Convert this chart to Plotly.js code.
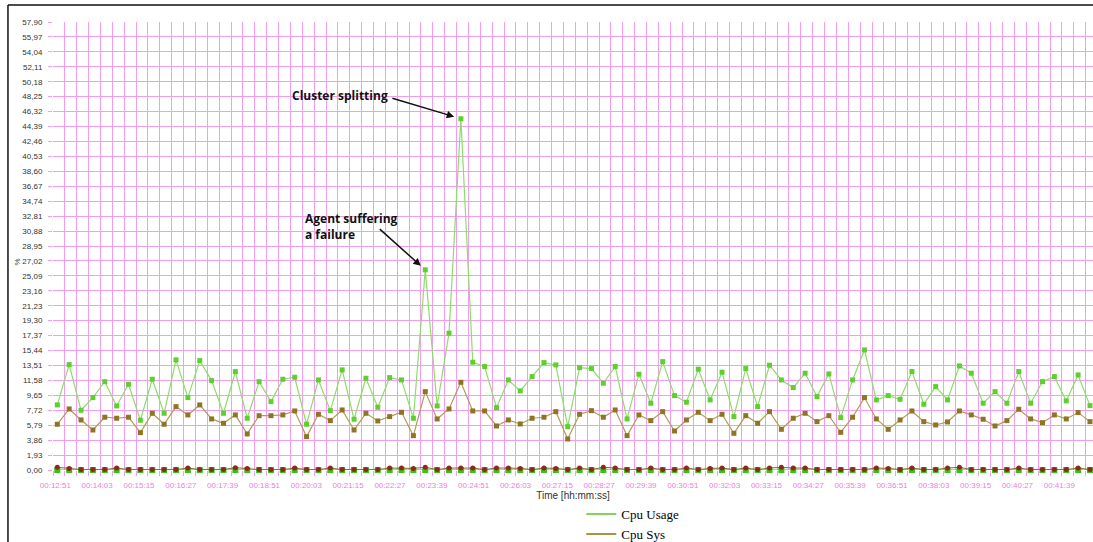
<!DOCTYPE html>
<html>
<head>
<meta charset="utf-8">
<script src="https://cdn.plot.ly/plotly-3.0.1.min.js"></script>
<style>html,body{margin:0;padding:0;background:#fff;}#chart{width:1093px;height:542px;}</style>
</head>
<body>
<div id="chart"></div>
<script>
// ---- data ----
const xTickLabels = ['00:12:51','00:14:03','00:15:15','00:16:27','00:17:39','00:18:51','00:20:03','00:21:15','00:22:27','00:23:39','00:24:51','00:26:03','00:27:15','00:28:27','00:29:39','00:30:51','00:32:03','00:33:15','00:34:27','00:35:39','00:36:51','00:38:03','00:39:15','00:40:27','00:41:39'];
const yTickLabels = ['0,00','1,93','3,86','5,79','7,72','9,65','11,58','13,51','15,44','17,37','19,30','21,23','23,16','25,09','27,02','28,95','30,88','32,81','34,74','36,67','38,60','40,53','42,46','44,39','46,32','48,25','50,18','52,11','54,04','55,97','57,90'];
const firstSampleTime = '00:12:54.4';
const samplePeriodSec = 20.43;

const cpuUsage = [8.41,13.62,7.72,9.36,11.42,8.28,11.08,6.43,11.73,7.33,14.23,9.36,14.14,11.55,7.33,12.72,6.69,11.42,8.84,11.73,11.99,5.91,11.64,7.67,12.94,6.56,11.86,8.11,11.94,
  11.64,6.69,25.87,8.28,17.68,45.4,13.93,13.37,8.06,11.64,10.22,12.07,13.88,13.58,5.60,13.23,13.11,11.21,13.37,6.60,12.38,8.63,14.01,9.61,8.76,13.03,9.06,12.64,6.90,
  13.11,8.19,13.54,11.64,10.65,12.51,9.49,12.42,6.77,11.64,15.52,9.06,9.61,9.14,12.72,8.50,10.78,9.06,13.45,12.51,8.63,10.13,8.63,12.72,8.63,11.42,12.07,8.93,12.29,8.32];
const cpuSys = [5.91,7.89,6.47,5.17,6.82,6.69,6.82,4.83,7.33,5.91,8.19,7.12,8.41,6.60,6.04,7.12,4.66,7.02,7.02,7.12,7.63,4.31,7.20,6.38,7.76,5.17,7.33,6.34,6.90,
  7.46,4.44,10.13,6.60,7.89,11.34,7.63,7.63,5.69,6.47,5.95,6.69,6.82,7.54,4.01,7.20,7.67,6.82,7.76,4.44,7.12,6.38,7.54,5.04,6.47,7.46,6.38,7.20,4.74,
  7.02,6.04,7.54,5.26,6.69,7.33,6.25,7.02,4.87,6.82,9.36,6.60,5.26,6.47,7.63,6.25,5.82,6.21,7.63,7.12,6.56,5.69,6.38,7.85,6.60,6.12,7.12,6.60,7.42,6.25];
const cpuWait = [0.35,0.2,0.05,0.05,0.05,0.25,0.05,0.05,0.05,0.05,0.05,0.25,0.05,0.05,0.05,0.3,0.2,0.05,0.05,0.05,0.25,0.05,0.05,0.25,0.05,0.05,0.05,0.05,0.25,
  0.25,0.2,0.35,0.05,0.25,0.25,0.25,0.05,0.25,0.25,0.2,0.05,0.25,0.2,0.05,0.25,0.05,0.35,0.25,0.05,0.05,0.25,0.05,0.05,0.25,0.05,0.2,0.25,0.05,
  0.25,0.05,0.25,0.35,0.25,0.25,0.05,0.05,0.05,0.05,0.05,0.25,0.2,0.05,0.25,0.05,0.05,0.25,0.35,0.05,0.05,0.05,0.05,0.25,0.05,0.05,0.05,0.05,0.25,0.05];
const cpuNice = [0,0,0,0,0,0,0,0,0,0,0,0,0,0,0,0,0,0,0,0,0,0,0,0,0,0,0,0,0,
  0,0,0,0,0,0,0,0,0,0,0,0,0,0,0,0,0,0,0,0,0,0,0,0,0,0,0,0,0,
  0,0,0,0,0,0,0,0,0,0,0,0,0,0,0,0,0,0,0,0,0,0,0,0,0,0,0,0,0,0];

// ---- helpers ----
function toSec(s){const p=s.split(':').map(Number);return p[0]*3600+p[1]*60+p[2];}
const t0 = toSec(firstSampleTime);
const times = cpuUsage.map((_,i)=>t0+i*samplePeriodSec);
const xTickVals = xTickLabels.map(toSec);
const yTickVals = yTickLabels.map(s=>parseFloat(s.replace(',','.')));
const xRange = [xTickVals[0]-4.0, xTickVals[0]+1786];

const pink = '#f49cf0';
const traces = [
  {x:times,y:cpuNice,mode:'lines+markers',showlegend:false,cliponaxis:false,
   line:{color:'#5fae3a',width:1},marker:{color:'#33c414',size:6,symbol:'square'}},
  {x:times,y:cpuWait,mode:'lines+markers',showlegend:false,cliponaxis:false,
   line:{color:'#8a6a2a',width:1},marker:{color:'#8b2a1a',size:5}},
  {x:times,y:cpuSys,mode:'lines+markers',name:'Cpu Sys',showlegend:false,cliponaxis:false,
   line:{color:'#b39b58',width:1.2},marker:{color:'#8e7424',size:5,symbol:'square'}},
  {x:times,y:cpuUsage,mode:'lines+markers',name:'Cpu Usage',showlegend:false,cliponaxis:false,
   line:{color:'#8fdc6c',width:1.2},marker:{color:'#5fcf2f',size:5,symbol:'square'}},
  {x:[null],y:[null],mode:'lines',name:'Cpu Usage',line:{color:'#80d35c',width:2}},
  {x:[null],y:[null],mode:'lines',name:'Cpu Sys',line:{color:'#a8963f',width:2}}
];

const spike = cpuUsage.indexOf(Math.max(...cpuUsage));
const fail = 31;

const layout = {
  width:1093,height:542,
  margin:{l:53,r:0,t:22,b:72,autoexpand:false},
  paper_bgcolor:'#fff',plot_bgcolor:'#fff',
  font:{family:'Liberation Sans, Arial, sans-serif',color:'#333'},
  xaxis:{
    type:'linear',range:xRange,automargin:false,
    tickmode:'array',tickvals:xTickVals,ticktext:xTickLabels,
    showgrid:false,zeroline:false,showline:false,ticks:'',
    ticklabelstandoff:9,
    tickfont:{size:8,color:'#f07cdc'},
    minor:{tickmode:'linear',tick0:xTickVals[0]-4.0,dtick:samplePeriodSec,showgrid:true,gridcolor:pink,gridwidth:1,ticks:'outside',ticklen:5,tickcolor:pink},
    title:{text:'Time [hh:mm:ss]',font:{size:10,color:'#333'},standoff:1}
  },
  yaxis:{
    range:[0,57.9],automargin:false,tickmode:'array',tickvals:yTickVals,ticktext:yTickLabels,
    showgrid:true,gridcolor:pink,gridwidth:1,zeroline:false,showline:false,
    ticks:'outside',ticklen:4,tickcolor:pink,ticklabelstandoff:4,
    tickfont:{size:8,color:'#333'}
  },
  legend:{x:0.508,y:-0.065,xanchor:'left',yanchor:'top',orientation:'v',
    font:{family:'Liberation Serif, Times New Roman, serif',size:13,color:'#000'},
    bgcolor:'rgba(0,0,0,0)',tracegroupgap:0},
  annotations:[
    {xref:'paper',yref:'paper',x:0.2279,y:0.837,xanchor:'left',yanchor:'middle',showarrow:false,
     text:'<b>Cluster splitting</b>',font:{family:'Open Sans, sans-serif',size:12,color:'#111'}},
    {x:times[spike],y:cpuUsage[spike],text:'',showarrow:true,ax:-70,ay:-21,standoff:7,
     arrowhead:2,arrowsize:1,arrowwidth:1.5,arrowcolor:'#111'},
    {xref:'paper',yref:'paper',x:0.2404,y:0.5446,xanchor:'left',yanchor:'middle',align:'left',showarrow:false,
     text:'<b>Agent suffering<br>a failure</b>',font:{family:'Open Sans, sans-serif',size:12,color:'#111'}},
    {x:times[fail],y:cpuUsage[fail],text:'',showarrow:true,ax:-47,ay:-42,standoff:6,
     arrowhead:2,arrowsize:1,arrowwidth:1.5,arrowcolor:'#111'},
    {xref:'paper',yref:'paper',x:-0.0404,y:0.464,showarrow:false,text:'%',textangle:-90,
     font:{size:8,color:'#444'}}
  ],
  shapes:[
    {type:'line',xref:'paper',yref:'paper',x0:-0.0433,x1:-0.0433,y0:-0.161,y1:1.038,line:{color:'#111',width:1.5}},
    {type:'line',xref:'paper',yref:'paper',x0:-0.0433,x1:1.0,y0:1.038,y1:1.038,line:{color:'#111',width:1.5}}
  ]
};

Plotly.newPlot('chart',traces,layout,{displayModeBar:false,responsive:false});
</script>
</body>
</html>
